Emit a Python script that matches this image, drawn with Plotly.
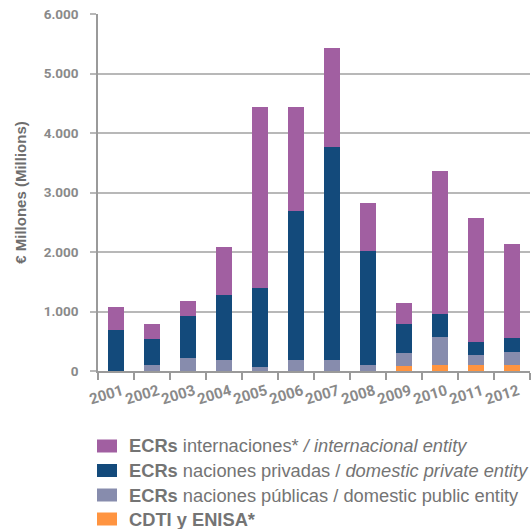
import plotly.graph_objects as go

years = ["2001", "2002", "2003", "2004", "2005", "2006", "2007", "2008", "2009", "2010", "2011", "2012"]
cdti_enisa = [0, 0, 0, 0, 0, 0, 0, 0, 84, 100, 100, 100]
ecr_publicas = [0, 100, 219, 185, 67, 185, 185, 100, 219, 472, 169, 220]
ecr_privadas = [690, 438, 706, 1093, 1329, 2506, 3583, 1918, 487, 387, 219, 235]
ecr_internacionales = [385, 252, 252, 808, 3044, 1749, 1665, 808, 354, 2405, 2086, 1581]

series = [
    ("<b>CDTI y ENISA*</b>", cdti_enisa, "#ff9440"),
    ("<b>ECRs</b> naciones públicas / domestic public entity", ecr_publicas, "#878cad"),
    ("<b>ECRs</b> naciones privadas / <i>domestic private entity</i>", ecr_privadas, "#134a7b"),
    ("<b>ECRs</b> internaciones* <i>/ internacional entity</i>", ecr_internacionales, "#a15fa1"),
]

W, H = 532, 529
ML, MR, MT, MB = 98, 2, 14, 158
PW, PH = W - ML - MR, H - MT - MB


def px_to_paper(px, py):
    return (px - ML) / PW, (H - MB - py) / PH


fig = go.Figure()
for name, vals, col in series:
    fig.add_trace(go.Bar(x=years, y=vals, name=name, showlegend=False,
                         marker=dict(color=col, line=dict(width=0))))

# manual legend (top row = last series)
row_centers = [446, 470.5, 495, 519]
for (name, vals, col), cy in zip(reversed(series), row_centers):
    x0, y0 = px_to_paper(97, cy - 6.5)
    x1, y1 = px_to_paper(117, cy + 6.5)
    fig.add_shape(type="rect", xref="paper", yref="paper", x0=x0, x1=x1, y0=y1, y1=y0,
                  fillcolor=col, line=dict(width=0))
    tx, ty = px_to_paper(127, cy)
    fig.add_annotation(xref="paper", yref="paper", x=tx, y=ty, xanchor="left", yanchor="middle",
                       text=name, showarrow=False,
                       font=dict(family="Liberation Sans", size=18.3, color="#747474"))

ytickfont = dict(family="Roboto", size=13.5, color="#8a8a8a", weight="bold")
xtickfont = dict(family="Roboto", size=15, color="#8a8a8a", weight="bold")

fig.update_layout(
    width=W, height=H,
    margin=dict(l=ML, r=MR, t=MT, b=MB, autoexpand=False),
    barmode="stack",
    bargap=0.53,
    plot_bgcolor="white",
    paper_bgcolor="white",
    separators=",.",
    showlegend=False,
    xaxis=dict(
        type="category",
        automargin=False,
        tickangle=-17,
        tickfont=xtickfont,
        ticklabelshift=6,
        ticklabelstandoff=4,
        showline=True, linecolor="#9a9a9a", linewidth=1.5,
        ticks="outside", tickson="boundaries", ticklen=7, tickcolor="#9a9a9a", tickwidth=1.5,
        showgrid=False,
    ),
    yaxis=dict(
        automargin=False,
        range=[0, 6000],
        dtick=1000,
        tickformat=",d",
        tickfont=ytickfont,
        showline=True, linecolor="#9a9a9a", linewidth=1.5,
        ticks="outside", ticklen=6, tickcolor="#b8b8b8", tickwidth=1.5,
        ticklabelstandoff=9,
        showgrid=True, gridcolor="#b8b8b8", gridwidth=1.5,
        zeroline=False,
        title=dict(text="<b>€ Millones (Millions)</b>", font=dict(family="Liberation Sans", size=15, color="#6e6e6e"), standoff=13),
    ),
)

fig.write_html("out.html")
